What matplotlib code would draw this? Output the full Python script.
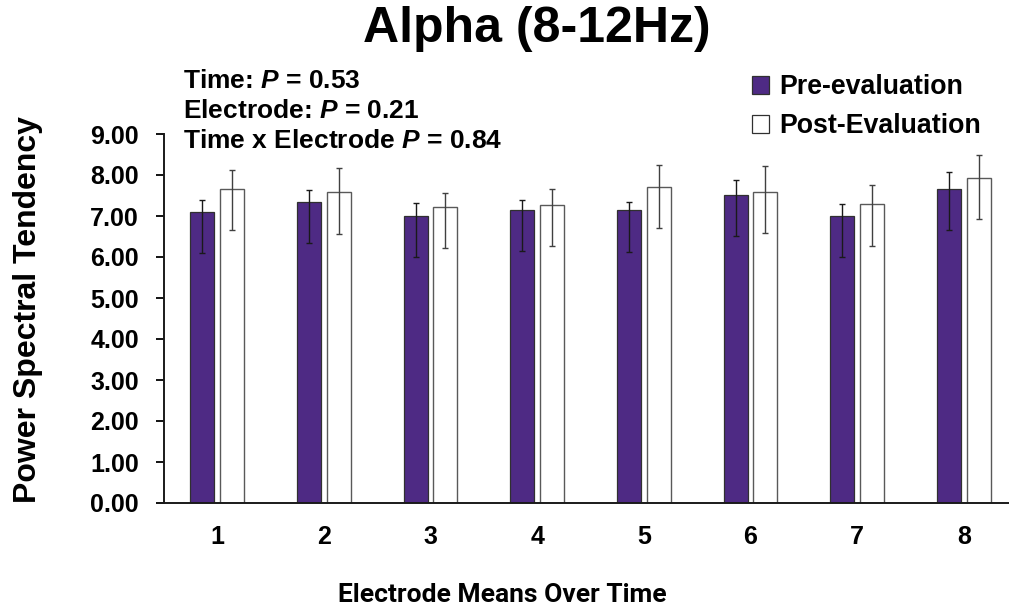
import matplotlib
matplotlib.use("Agg")
import matplotlib.pyplot as plt
import numpy as np
from matplotlib.patches import Patch

plt.rcParams["font.family"] = ["Liberation Sans", "DejaVu Sans"]
plt.rcParams["font.weight"] = "bold"
plt.rcParams["mathtext.fontset"] = "custom"
plt.rcParams["mathtext.it"] = "Liberation Sans:italic:bold"
plt.rcParams["mathtext.rm"] = "Liberation Sans:bold"

# values
electrodes = ["1", "2", "3", "4", "5", "6", "7", "8"]
pre = [7.09, 7.34, 7.01, 7.15, 7.14, 7.51, 7.00, 7.67]
pre_up = [0.29, 0.30, 0.31, 0.24, 0.19, 0.37, 0.29, 0.41]
pre_down = [0.99, 1.01, 1.00, 1.00, 1.01, 1.00, 0.99, 1.00]
post = [7.66, 7.58, 7.21, 7.27, 7.71, 7.59, 7.29, 7.93]
post_up = [0.45, 0.58, 0.35, 0.39, 0.54, 0.62, 0.46, 0.57]
post_down = [0.99, 1.01, 1.00, 0.99, 1.00, 1.01, 1.01, 1.00]
yticks = [0, 1, 2, 3, 4, 5, 6, 7, 8, 9]
stats = ["Time: $P$ = 0.53", "Electrode: $P$ = 0.21", "Time x Electrode $P$ = 0.84"]

W, H = 1009, 607
purple = "#4E2A84"

fig = plt.figure(figsize=(W / 100, H / 100), dpi=100)
ax = fig.add_axes([164 / W, 1 - 503 / H, 853 / W, 369 / H])

x = np.arange(1, len(electrodes) + 1)
bw = 0.225
off = 0.14
ax.bar(x - off, pre, bw, color=purple, edgecolor="#303030", linewidth=0.9, zorder=2)
ax.bar(x + off, post, bw, color="white", edgecolor="#595959", linewidth=1.0, zorder=2)
ax.errorbar(x - off, pre, yerr=[pre_down, pre_up], fmt="none", ecolor="#1a1a1a",
            elinewidth=1.0, capsize=2.5, capthick=1.0, zorder=3)
ax.errorbar(x + off, post, yerr=[post_down, post_up], fmt="none", ecolor="#404040",
            elinewidth=1.0, capsize=2.5, capthick=1.0, zorder=3)

ax.set_xlim(0.5, 8.5)
ax.set_ylim(0, 9)
ax.set_xticks(x)
ax.set_xticklabels(electrodes)
ax.set_yticks(yticks)
ax.set_yticklabels([f"{v:.2f}" for v in yticks])
ax.tick_params(axis="y", length=6, width=1.3, pad=12, labelsize=18, colors="black")
ax.tick_params(axis="x", length=0, pad=16, labelsize=18)
for s in ["top", "right"]:
    ax.spines[s].set_visible(False)
for s in ["left", "bottom"]:
    ax.spines[s].set_linewidth(1.4)
    ax.spines[s].set_color("#1a1a1a")

fig.text(537 / W, 1 - 42 / H, "Alpha (8-12Hz)", ha="center", va="baseline",
         fontsize=36, fontweight="bold")
fig.text(28 / W, 1 - 310 / H, "Power Spectral Tendency", ha="center", va="center",
         rotation=90, fontsize=23, fontweight="bold")
fig.text(502 / W, 1 - 602 / H, "Electrode Means Over Time", ha="center", va="baseline",
         fontsize=19, fontweight="bold", family=["Roboto", "DejaVu Sans"])

for i, s in enumerate(stats):
    fig.text(183 / W, 1 - (88 + 30 * i) / H, s, ha="left", va="baseline",
             fontsize=19, fontweight="bold")

handles = [Patch(facecolor=purple, edgecolor="#303030", linewidth=0.9),
           Patch(facecolor="white", edgecolor="#303030", linewidth=0.9)]
fig.legend(handles, ["Pre-evaluation", "Post-Evaluation"], loc="upper left",
           bbox_to_anchor=(752 / W, 1 - 74 / H), frameon=False, fontsize=19.3,
           handlelength=0.65, handleheight=0.65, handletextpad=0.35,
           labelspacing=0.5, borderaxespad=0, borderpad=0)

fig.savefig("out.png", dpi=100)
